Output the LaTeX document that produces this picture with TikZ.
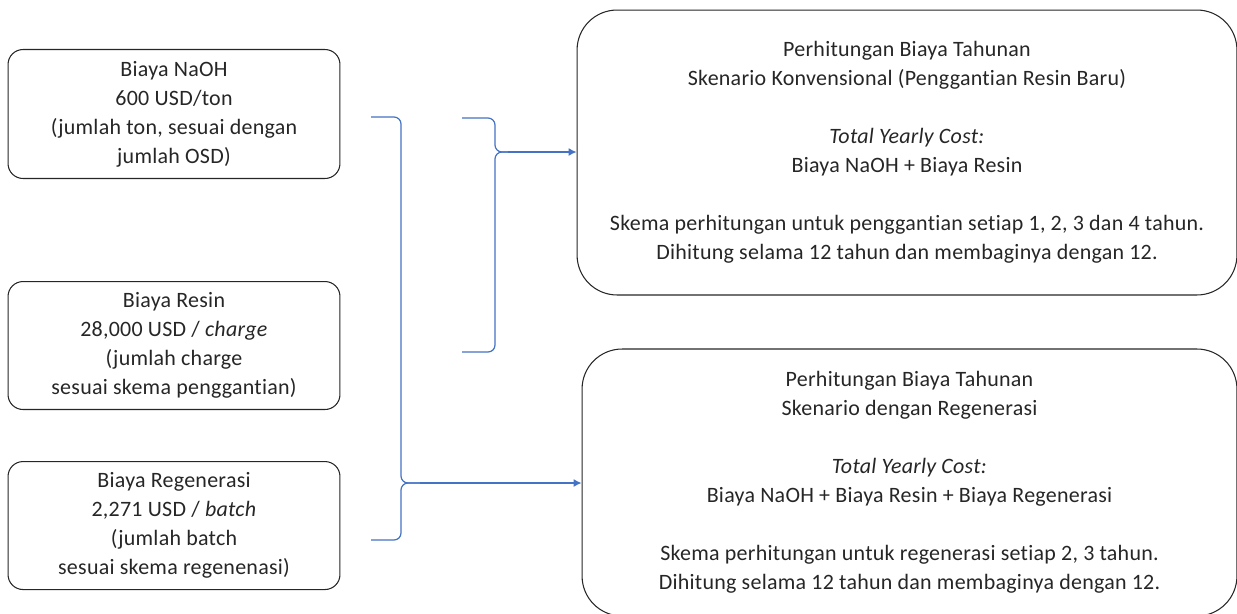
\documentclass[tikz,border=0pt]{standalone}
\usepackage{fontspec}
\setmainfont{Carlito}[LetterSpace=1.2, Ligatures=NoCommon]
\usetikzlibrary{positioning, arrows.meta, calc}
\definecolor{braceBlue}{HTML}{4472C4}
\definecolor{boxGray}{HTML}{262626}
\tikzstyle{costbox} =[draw=boxGray, line width=0.6pt, rounded corners=0.3cm, align=center, text=boxGray, minimum width=6.64cm, minimum height=2.56cm, inner sep=0pt]
\tikzstyle{scenbox} =[draw=boxGray, line width=0.6pt, rounded corners=0.8cm, align=center, text=boxGray, inner sep=0pt]
\tikzstyle{bracket} =[braceBlue, line width=0.7pt, rounded corners=0.14cm]
\tikzstyle{arrowline} =[-{Latex[length=4.5pt, width=4.5pt]}, braceBlue, line width=0.7pt]

\begin{document}
\begin{tikzpicture}[x=0.02cm, y=-0.02cm, font=\fontsize{12.5}{16.5}\selectfont]
\useasboundingbox (0,0) rectangle (1237,613);

\node (naoh) [costbox, minimum height=2.58cm] at (174,114) {Biaya NaOH\\600 USD/ton\\(jumlah ton, sesuai dengan\\jumlah OSD)};

\node (resin) [costbox, below=2.04cm of naoh] {Biaya Resin\\28,000 USD / \textit{charge}\\(jumlah charge\\sesuai skema penggantian)};

\node (regen) [costbox, below=1.02cm of resin] {Biaya Regenerasi\\2,271 USD / \textit{batch}\\(jumlah batch\\sesuai skema regenenasi)};

\node (konv) [scenbox, minimum width=13.2cm, minimum height=5.7cm] at (907,152.5) {Perhitungan Biaya Tahunan\\Skenario Konvensional (Penggantian Resin Baru)\\[16.5pt]\textit{Total Yearly Cost:}\\Biaya NaOH + Biaya Resin\\[16.5pt]Skema perhitungan untuk penggantian setiap 1, 2, 3 dan 4 tahun.\\Dihitung selama 12 tahun dan membaginya dengan 12.};

\node (regBox) [scenbox, minimum width=13.1cm, minimum height=5.34cm, below=1.06cm of konv, xshift=0.05cm] {Perhitungan Biaya Tahunan\\Skenario dengan Regenerasi\\[16.5pt]\textit{Total Yearly Cost:}\\Biaya NaOH + Biaya Resin + Biaya Regenerasi\\[16.5pt]Skema perhitungan untuk regenerasi setiap 2, 3 tahun.\\Dihitung selama 12 tahun dan membaginya dengan 12.};

%brace NaOH + Resin
\coordinate (b1Top) at (462,118);
\coordinate (b1Bot) at (462,352);
\coordinate (b1Tip) at (508,152);
\draw[bracket] (b1Top) -| (495,152) -- (b1Tip);
\draw[bracket] (b1Bot) -| (495,152) -- (b1Tip);
\draw[arrowline] (b1Tip) -- (konv.west |- b1Tip);

%brace all three
\coordinate (b2Top) at (371,117);
\coordinate (b2Bot) at (371,540);
\coordinate (b2Tip) at (420,483);
\draw[bracket] (b2Top) -| (401,483) -- (b2Tip);
\draw[bracket] (b2Bot) -| (401,483) -- (b2Tip);
\draw[arrowline] (b2Tip) -- (regBox.west |- b2Tip);
\end{tikzpicture}
\end{document}
